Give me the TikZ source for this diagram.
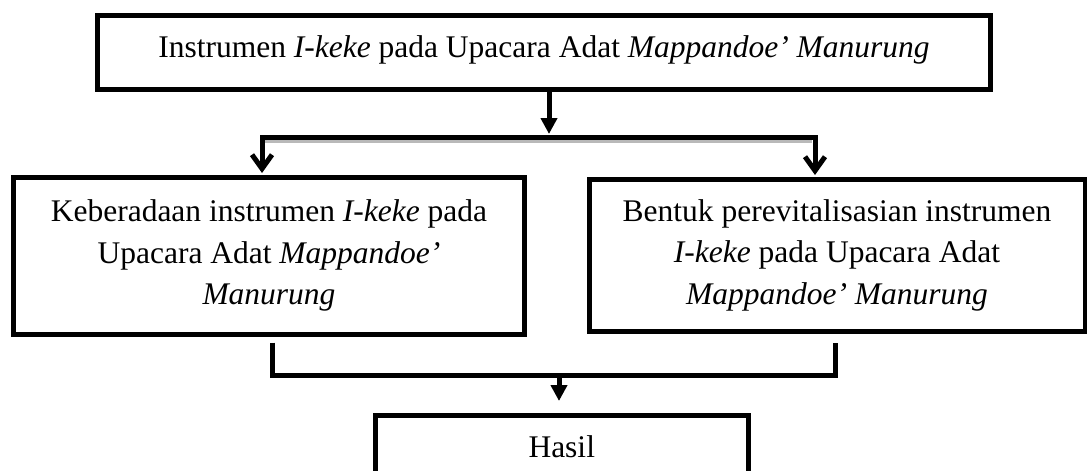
\documentclass[tikz,border=0pt]{standalone}
\usepackage{fontspec}
\setmainfont{Liberation Serif}
\usetikzlibrary{arrows.meta,calc}
\begin{document}
\begin{tikzpicture}[x=1pt,y=-1pt,
  box/.style={draw=black, line width=5pt, rectangle, inner sep=0pt, align=center,
    font=\fontsize{31.5}{41.5}\selectfont, fill=white},
  conn/.style={draw=black, line width=5pt},
  filltip/.style={-{Triangle[length=16pt,width=16pt]}},
  barbtip/.style={-{Straight Barb[length=14pt,width=20pt,line width=5pt]}},
]
\useasboundingbox (0,0) rectangle (1087,471);

% boxes
\node[box, minimum width=893pt, minimum height=74.5pt, text height=21.5pt, text depth=12pt]
  (T) at (544,52.25) {Instrumen \textit{I-keke} pada Upacara Adat \textit{Mappandoe’ Manurung}};
\node[box, minimum width=511pt, minimum height=157pt]
  (L) at (269,255.5) {Keberadaan instrumen \textit{I-keke} pada\\Upacara Adat \textit{Mappandoe’}\\\textit{Manurung}};
\node[box, minimum width=496pt, minimum height=152pt]
  (R) at (837,255) {Bentuk perevitalisasian instrumen\\\textit{I-keke} pada Upacara Adat\\\textit{Mappandoe’ Manurung}};
\node[box, minimum width=373.5pt, minimum height=62.5pt]
  (H) at (561.75,446.75) {Hasil};

% top bracket
\coordinate (jT) at (549,137);
\coordinate (bL) at (262,137);
\coordinate (bR) at (815,137);
\draw[gray!55, line width=4pt] ($(bL)+(3,4)$) -- ($(bR)+(-3,4)$);
\draw[conn, line cap=rect] (bL) -- (bR);
\draw[conn, filltip, shorten >=3pt] (T.south -| jT) -- (jT);
\draw[conn, barbtip, shorten >=1.5pt] (bL) -- (bL |- L.north);
\draw[conn, barbtip, shorten >=1.5pt] (bR) -- (bR |- R.north);

% bottom bracket
\coordinate (cL) at (272,375.5);
\coordinate (cR) at (835.5,375.5);
\coordinate (cM) at (559,375.5);
\draw[conn, line join=miter, shorten <=6pt, shorten >=9pt] (L.south -| cL) -- (cL) -- (cR) -- (R.south -| cR);
\draw[conn, filltip, shorten >=12pt] (cM) -- (H.north -| cM);
\end{tikzpicture}
\end{document}
